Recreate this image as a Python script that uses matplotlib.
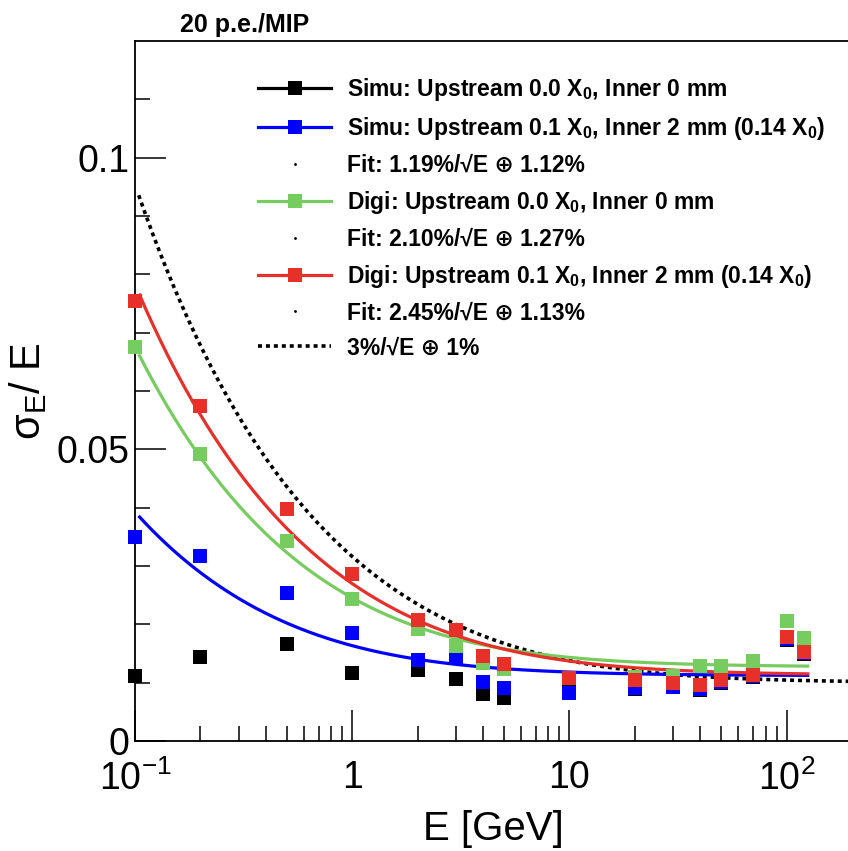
import numpy as np
import matplotlib
matplotlib.use("Agg")
import matplotlib.pyplot as plt
from matplotlib.lines import Line2D
from matplotlib.ticker import FixedLocator, NullFormatter, LogLocator

plt.rcParams['font.family'] = ['Liberation Sans', 'DejaVu Sans']
plt.rcParams['mathtext.default'] = 'regular'

# Beam energies [GeV]
energy = [0.1, 0.2, 0.5, 1, 2, 3, 4, 5, 10, 20, 30, 40, 50, 70, 100, 120]

# Relative energy resolution sigma_E / E
simu_up00 = [0.0112, 0.0144, 0.0166, 0.0117, 0.0122, 0.0106, 0.0081, 0.0073,
             0.0084, 0.0090, 0.0092, 0.0088, 0.0100, 0.0110, 0.0174, 0.0150]
simu_up01 = [0.0350, 0.0317, 0.0254, 0.0185, 0.0139, 0.0142, 0.0101, 0.0091,
             0.0082, 0.0091, 0.0093, 0.0089, 0.0101, 0.0111, 0.0175, 0.0151]
digi_up00 = [0.0676, 0.0492, 0.0343, 0.0243, 0.0192, 0.0163, 0.0134, 0.0124,
             0.0108, 0.0110, 0.0112, 0.0128, 0.0128, 0.0137, 0.0206, 0.0177]
digi_up01 = [0.0755, 0.0575, 0.0398, 0.0286, 0.0208, 0.0190, 0.0146, 0.0132,
             0.0108, 0.0104, 0.0099, 0.0096, 0.0104, 0.0113, 0.0178, 0.0153]

# Fit parameters: stochastic term [%], constant term [%]
fit_simu_up01 = (1.19, 1.12)
fit_digi_up00 = (2.10, 1.27)
fit_digi_up01 = (2.45, 1.13)
reference = (3.0, 1.0)

col_black = '#000000'
col_blue = '#0000ff'
col_green = '#77cc5f'
col_red = '#e8302a'

labels = [
    r'Simu: Upstream 0.0 X$_{0}$, Inner 0 mm',
    r'Simu: Upstream 0.1 X$_{0}$, Inner 2 mm (0.14 X$_{0}$)',
    'Fit: 1.19%/\u221aE \u2295 1.12%',
    r'Digi: Upstream 0.0 X$_{0}$, Inner 0 mm',
    'Fit: 2.10%/\u221aE \u2295 1.27%',
    r'Digi: Upstream 0.1 X$_{0}$, Inner 2 mm (0.14 X$_{0}$)',
    'Fit: 2.45%/\u221aE \u2295 1.13%',
    '3%/\u221aE \u2295 1%',
]


def resolution(e, stoch, const):
    return np.sqrt((stoch / 100.0 / np.sqrt(e)) ** 2 + (const / 100.0) ** 2)


W, H = 848, 851
fig = plt.figure(figsize=(W / 100, H / 100), dpi=100)
ax = fig.add_axes([135 / W, 1 - 741 / H, 717 / W, 700 / H])

ax.set_xscale('log')
ax.set_xlim(0.1, 200)
ax.set_ylim(0, 0.12)

# Fitted curves and the reference parameterisation
e_fit = np.logspace(np.log10(0.105), np.log10(125), 300)
e_ref = np.logspace(np.log10(0.104), np.log10(200), 300)
lw = 2.3
ax.plot(e_ref, resolution(e_ref, *reference), color='black', lw=2.6,
        linestyle=(0, (1.1, 1.1)), zorder=2)
ax.plot(e_fit, resolution(e_fit, *fit_simu_up01), color=col_blue, lw=lw, zorder=2)
ax.plot(e_fit, resolution(e_fit, *fit_digi_up00), color=col_green, lw=lw, zorder=2)
ax.plot(e_fit, resolution(e_fit, *fit_digi_up01), color=col_red, lw=lw, zorder=2)

ms = 10
for vals, c in [(simu_up00, col_black), (simu_up01, col_blue),
                (digi_up00, col_green), (digi_up01, col_red)]:
    ax.plot(energy, vals, linestyle='none', marker='s', markersize=ms,
            color=c, markeredgewidth=0, zorder=3, clip_on=False)

# Axis styling
ax.spines['top'].set_linewidth(1.3)
ax.spines['left'].set_linewidth(1.3)
ax.spines['bottom'].set_linewidth(1.3)
ax.spines['right'].set_visible(False)

ax.yaxis.set_major_locator(FixedLocator([0, 0.05, 0.1]))
ax.yaxis.set_minor_locator(FixedLocator([0.01, 0.02, 0.03, 0.04, 0.06, 0.07,
                                         0.08, 0.09, 0.11]))
ax.set_yticklabels(['0', '0.05', '0.1'])
ax.xaxis.set_major_locator(FixedLocator([0.1, 1, 10, 100]))
ax.xaxis.set_minor_locator(LogLocator(base=10, subs=np.arange(2, 10), numticks=20))
ax.xaxis.set_minor_formatter(NullFormatter())
ax.set_xticklabels([r'10$^{-1}$', '1', '10', r'10$^{2}$'])

ax.tick_params(axis='both', which='major', direction='in', length=22, width=1.1,
               labelsize=27, top=False, right=False)
ax.tick_params(axis='both', which='minor', direction='in', length=11, width=1.1,
               top=False, right=False)
ax.tick_params(axis='x', which='major', pad=14)
ax.tick_params(axis='y', which='major', pad=4)

ax.set_xlabel('E [GeV]', fontsize=29)
ax.xaxis.label.set_verticalalignment('center')
ax.xaxis.set_label_coords((493 - 135) / 717, -(829 - 741) / 700)

ax.set_ylabel(r'$\sigma_{E}$/ E', fontsize=30)
ax.yaxis.label.set_verticalalignment('center')
ax.yaxis.set_label_coords(-(135 - 28) / 717, (741 - 391) / 700)

fig.text(180 / W, 1 - 25 / H, '20 p.e./MIP', fontsize=18, fontweight='bold',
         ha='left', va='center')

# Legend
handles = [
    Line2D([], [], color=col_black, lw=lw, marker='s', markersize=ms, markeredgewidth=0),
    Line2D([], [], color=col_blue, lw=lw, marker='s', markersize=ms, markeredgewidth=0),
    Line2D([], [], color='black', linestyle='none', marker='.', markersize=2),
    Line2D([], [], color=col_green, lw=lw, marker='s', markersize=ms, markeredgewidth=0),
    Line2D([], [], color='black', linestyle='none', marker='.', markersize=2),
    Line2D([], [], color=col_red, lw=lw, marker='s', markersize=ms, markeredgewidth=0),
    Line2D([], [], color='black', linestyle='none', marker='.', markersize=2),
    Line2D([], [], color='black', lw=2.6, linestyle=(0, (1.1, 1.1))),
]
leg = fig.legend(handles, labels, loc='upper left',
                 bbox_to_anchor=(258 / W, 1 - 76 / H), frameon=False,
                 prop={'size': 16.5, 'weight': 'bold'}, handlelength=3.2,
                 handletextpad=0.7, labelspacing=0.52, borderpad=0,
                 borderaxespad=0)

fig.savefig('out.png', dpi=100)
